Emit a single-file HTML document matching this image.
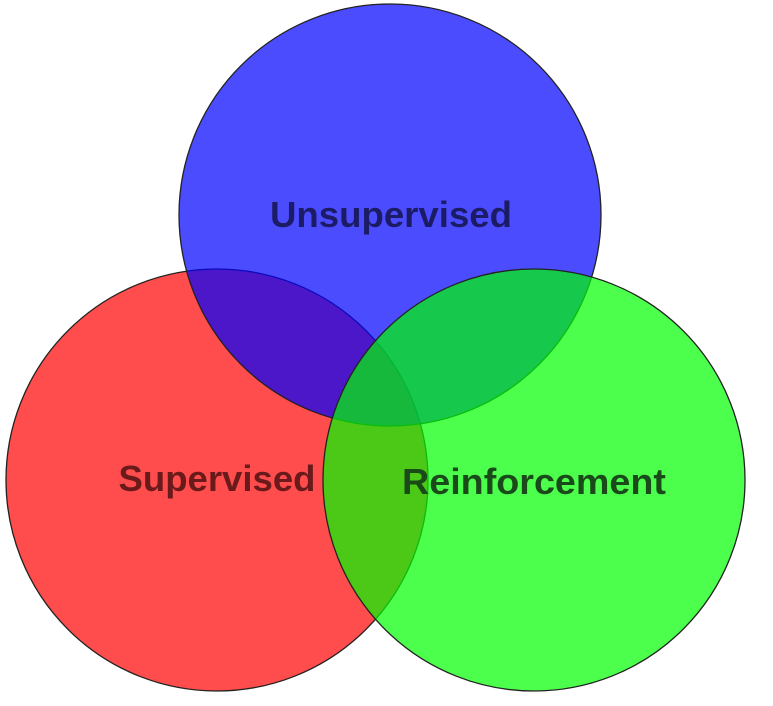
<!DOCTYPE html>
<html><head><meta charset="utf-8"><style>html,body{margin:0;padding:0;background:#fff;}</style></head>
<body>
<svg width="773" height="701" viewBox="0 0 773 701" xmlns="http://www.w3.org/2000/svg">
<g stroke="#222" stroke-width="1.3">
<circle cx="217" cy="480" r="211" fill="#ff0000" fill-opacity="0.7"/>
<circle cx="390" cy="215" r="211" fill="#0000ff" fill-opacity="0.7"/>
<circle cx="534" cy="480" r="211" fill="#00ff00" fill-opacity="0.7"/>
</g>
<g font-family="Liberation Sans, sans-serif" font-weight="bold" font-size="36" text-anchor="middle">
<text x="391" y="227" fill="#1c1c66" textLength="242" lengthAdjust="spacingAndGlyphs">Unsupervised</text>
<text x="217" y="491" fill="#6a1a1a" textLength="197" lengthAdjust="spacingAndGlyphs">Supervised</text>
<text x="534" y="494" fill="#1a4a1a" textLength="264" lengthAdjust="spacingAndGlyphs">Reinforcement</text>
</g>
</svg>
</body></html>
